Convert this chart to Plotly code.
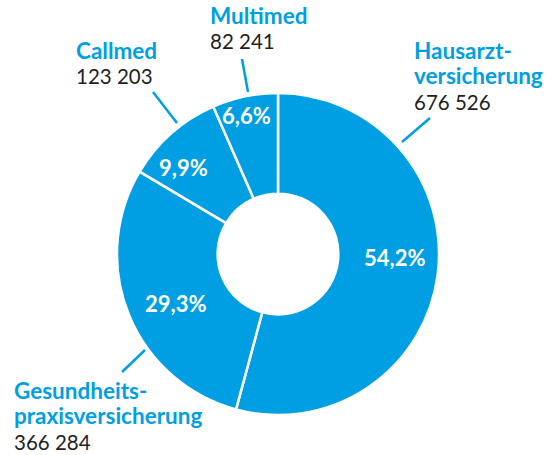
import plotly.graph_objects as go

labels = ["Hausarzt-<br>versicherung", "Gesundheits-<br>praxisversicherung", "Callmed", "Multimed"]
values = [676526, 366284, 123203, 82241]

BLUE = "#009FE3"
DARK = "#231F20"
W, H = 551, 455

def fmt(v):
    return f"{v:,}".replace(",", " ")

total = sum(values)
pct_text = [f"{v / total * 100:.1f}%".replace(".", ",") for v in values]

fig = go.Figure(go.Pie(
    labels=labels,
    values=values,
    textinfo="none",
    hole=0.375,
    sort=False,
    direction="clockwise",
    rotation=0,
    marker=dict(colors=[BLUE] * 4, line=dict(color="white", width=2.5)),
    domain=dict(x=[(278 - 161) / W, (278 + 161) / W], y=[(H - 254 - 161) / H, (H - 254 + 161) / H]),
    showlegend=False,
))

# percent label centres (px)
pct_pos = [(394, 257), (175, 303), (183, 167), (246, 115)]
for t, (px, py) in zip(pct_text, pct_pos):
    fig.add_annotation(
        x=px / W, y=1 - py / H, xref="paper", yref="paper",
        xanchor="center", yanchor="middle", showarrow=False,
        text=f"<b>{t}</b>",
        font=dict(family="Lato", size=22, color="white"),
    )

# label positions (px, top-left of text block)
label_pos = [(413, 36), (13, 376), (75, 36), (209, 1)]
for lab, v, (px, py) in zip(labels, values, label_pos):
    fig.add_annotation(
        x=px / W, y=1 - py / H, xref="paper", yref="paper",
        xanchor="left", yanchor="top", align="left", showarrow=False,
        text=(f"<b><span style='color:{BLUE};font-size:22.5px'>{lab}</span></b><br>"
              f"<span style='color:{DARK};font-size:20.5px'>{fmt(v)}</span>"),
        font=dict(family="Lato", size=19.5, color=DARK),
        borderpad=0,
    )

# leader lines
leaders = [((430, 118), (402, 142)), ((145, 350), (122, 372)), ((153, 92), (177, 123)), ((242, 59), (248, 92))]
for (x0, y0), (x1, y1) in leaders:
    fig.add_shape(type="line", xref="paper", yref="paper",
                  x0=x0 / W, y0=1 - y0 / H, x1=x1 / W, y1=1 - y1 / H,
                  line=dict(color=BLUE, width=2.5))

fig.update_layout(
    width=W, height=H,
    margin=dict(l=0, r=0, t=0, b=0),
    paper_bgcolor="white", plot_bgcolor="white",
    separators=", ",
)

fig.write_html("out.html", config={"displayModeBar": False},
               post_script="document.body.style.margin='0';document.body.style.overflow='hidden';")
